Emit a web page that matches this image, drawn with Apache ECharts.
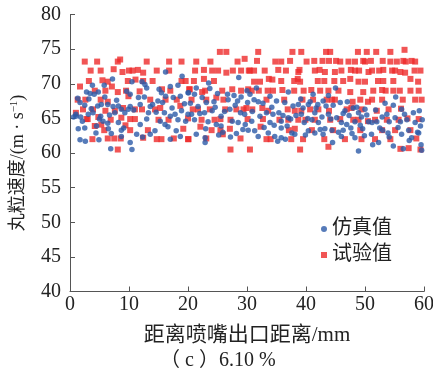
<!DOCTYPE html>
<html><head><meta charset="utf-8">
<script src="https://cdn.jsdelivr.net/npm/echarts@6/dist/echarts.min.js"></script>
<style>html,body{margin:0;padding:0;background:#fff}#c{width:433px;height:375px}</style>
</head><body><div id="c"></div>
<script>
const xTicks = [0,10,20,30,40,50,60];
const yTicks = [40,45,50,55,60,65,70,75,80];
const seriesNames = ['仿真值','试验值'];
const simX = [1.0,7.2,3.8,5.8,2.8,3.4,4.1,4.8,1.7,3.2,2.5,4.7,5.3,6.4,7.3,8.2,8.7,7.6,1.0,1.8,3.1,3.9,5.2,5.6,6.4,8.2,9.3,9.9,1.4,2.5,4.5,6.5,8.7,1.7,2.6,4.9,8.7,6.9,
16.2,19.0,10.5,12.2,12.7,13.0,15.1,15.5,17.0,18.3,20.0,10.2,11.6,12.6,14.0,14.9,16.2,17.5,18.7,11.9,10.2,13.3,16.0,17.0,17.8,18.9,20.0,13.0,15.3,16.1,18.3,11.3,13.6,14.4,17.0,18.7,10.2,10.5,
28.6,23.5,21.4,23.7,20.1,21.1,25.0,26.7,27.8,29.0,23.1,24.4,26.8,28.4,30.1,20.6,22.0,22.8,24.1,25.6,27.1,28.9,29.6,21.1,23.4,24.8,25.6,28.5,29.7,21.4,22.9,25.9,28.2,22.9,27.2,
31.6,30.5,37.0,31.2,31.9,32.7,35.0,37.8,38.7,39.5,40.4,33.3,34.4,35.4,36.1,37.0,39.2,30.8,33.9,34.6,35.8,37.4,39.7,30.2,31.3,33.6,35.8,38.1,40.4,31.9,35.2,35.8,36.5,34.7,
45.0,43.8,41.2,40.7,42.0,42.9,44.6,45.8,46.6,48.0,48.9,50.0,41.5,42.7,43.8,45.2,47.3,49.4,41.0,42.1,46.0,46.9,48.3,50.6,43.2,44.4,46.3,47.6,49.6,41.5,42.9,46.0,48.3,44.5,48.9,
55.2,54.8,56.2,59.2,52.9,53.7,55.1,57.1,58.5,51.2,52.0,54.1,56.0,59.4,53.0,57.4,59.1,51.1,54.1,56.2,57.9,51.3,52.3,54.8,56.5,59.5,59.6,
0.6,1.3,2.1,3.6,4.4,5.0,5.9,6.7,7.0,7.9,9.1,9.6,10.8,11.9,12.3,13.6,14.6,15.7,16.6,17.3,18.0,19.4,19.6,
20.4,21.7,22.4,23.0,24.6,25.2,26.2,27.5,28.0,29.3,30.0,30.9,32.2,32.9,33.9,34.2,36.4,36.8,37.6,38.3,39.1,39.9,
40.3,41.7,42.4,43.4,44.2,45.5,46.3,47.0,47.8,48.6,49.2,49.9,50.3,51.8,52.5,53.4,53.9,55.6,56.7,57.5,58.2,58.9,59.7];
const simY = [65.6,70.7,69.8,69.8,68.8,68.6,68.5,68.8,67.3,67.8,66.9,66.8,67.0,67.0,66.7,66.8,66.3,65.8,65.3,65.2,65.6,65.8,65.3,64.6,64.3,64.4,65.8,66.3,63.5,63.6,63.9,63.5,63.3,61.9,61.7,61.9,62.4,60.6,
71.7,71.1,70.3,70.3,69.9,69.4,69.2,68.7,69.6,69.8,68.7,68.5,68.0,68.1,67.0,67.5,68.2,68.0,68.2,67.0,66.7,65.8,65.8,65.3,65.6,66.1,65.6,64.9,64.6,64.1,64.8,62.7,62.7,63.2,62.0,62.4,61.5,60.5,
70.9,70.1,69.4,69.3,68.7,68.5,68.6,68.5,68.3,68.1,67.3,67.4,67.7,67.5,67.3,65.6,65.7,65.8,66.1,65.3,66.3,65.8,65.6,64.8,64.5,64.1,63.9,64.4,64.1,62.7,62.2,63.0,62.8,61.5,62.3,
69.4,68.5,68.8,67.7,67.4,67.2,67.5,66.8,67.0,66.5,67.0,65.8,65.6,65.8,65.4,65.1,65.6,64.6,64.4,64.0,64.6,64.9,64.4,63.3,63.2,62.9,63.6,62.7,63.2,62.4,61.7,62.2,62.0,62.4,
69.4,68.3,68.5,67.4,67.0,67.5,66.9,67.3,66.1,66.5,65.8,66.3,65.8,65.2,65.6,65.1,65.4,65.2,64.8,64.4,64.4,64.1,64.5,64.5,63.5,63.3,63.3,63.6,63.5,62.9,62.7,62.4,62.2,61.5,60.3,
68.1,66.9,66.3,66.1,65.2,65.6,65.1,64.8,64.4,64.4,64.5,64.5,64.5,63.9,63.3,63.3,62.9,62.7,62.3,62.7,62.2,61.2,61.5,61.0,60.6,61.2,60.4,
65.2,67.9,64.6,66.4,62.9,64.9,68.1,65.5,62.8,67.6,63.6,68.9,66.2,64.1,62.3,66.7,65.9,67.3,63.8,66.5,63.2,67.1,64.6,
67.2,66.7,68.0,63.5,66.6,62.6,66.0,64.6,66.9,63.4,69.0,66.0,65.3,63.7,68.2,66.6,67.3,63.9,62.9,65.4,67.8,62.6,
65.0,66.5,63.4,66.8,64.9,63.0,65.7,67.4,62.8,66.6,64.0,62.5,65.5,66.2,63.6,67.2,62.9,63.7,65.6,61.8,65.8,63.0,64.8];
const expX = [2.5,8.1,8.5,3.5,5.2,7.4,8.9,10.0,3.2,5.5,6.4,9.8,4.2,6.0,8.1,1.3,2.6,5.2,6.4,9.9,2.2,3.9,6.0,7.6,9.0,2.8,4.8,6.9,8.7,4.2,5.3,3.8,6.4,7.5,8.6,8.1,
16.8,18.9,10.6,11.5,12.4,14.7,16.8,11.1,12.4,18.9,15.6,17.0,20.2,13.6,18.1,11.0,12.2,14.4,15.3,18.7,10.2,11.0,16.7,20.0,10.2,13.2,19.2,12.4,14.7,15.5,20.0,
25.4,26.5,23.8,28.4,29.6,21.2,22.7,24.1,25.1,26.5,29.0,30.3,21.0,22.7,24.4,20.3,22.4,25.8,27.5,29.0,30.2,20.6,23.1,24.8,20.8,21.7,23.7,26.3,28.2,29.9,22.3,24.5,25.5,27.2,30.1,22.1,25.5,27.1,23.1,25.9,20.1,27.2,
31.9,37.7,39.2,35.8,40.1,30.5,31.2,35.3,38.7,38.6,33.7,34.3,35.8,31.2,32.2,38.0,39.0,30.8,32.0,33.5,34.4,36.0,38.0,33.3,36.3,39.4,32.6,33.6,36.9,38.1,39.2,32.7,37.0,38.7,39.9,32.3,37.1,38.1,33.3,34.0,37.5,39.5,39.0,30.5,
44.1,48.8,50.3,41.4,42.8,43.9,45.8,47.2,48.3,49.7,41.5,43.2,44.9,46.0,48.3,50.6,42.0,43.1,44.8,47.5,48.9,50.0,42.4,43.8,45.5,47.5,49.7,41.2,43.5,44.9,47.9,49.2,50.5,40.7,42.1,43.9,47.7,49.4,41.5,44.1,45.8,48.9,50.5,41.0,44.6,49.2,43.1,46.6,49.4,43.8,
54.3,56.7,53.0,54.3,56.5,58.5,51.2,53.1,55.1,56.0,56.8,58.4,52.2,53.1,54.8,57.7,59.0,51.4,52.9,54.8,57.7,59.1,51.2,52.9,56.4,58.5,56.1,54.0,52.0,55.7,59.1,51.7,53.7,52.9,55.1,57.7,54.3,56.0,57.4,59.4,51.7,
1.0,1.7,3.0,4.6,5.8,7.1,9.4,9.5,11.8,13.0,14.0,15.0,16.2,17.6,19.6,21.4,22.9,24.0,26.0,27.6,28.9,29.4,
30.9,31.7,33.0,34.8,35.5,36.6,37.3,38.9,39.6,40.9,42.3,43.4,44.4,45.1,46.3,46.9,47.6,48.0,49.0,50.0,
51.0,51.9,52.4,53.5,54.6,55.4,55.9,56.9,57.2,57.9,58.7,59.4,59.6];
const expY = [73.2,73.2,73.5,71.9,71.9,72.1,71.7,71.9,70.4,70.5,70.3,70.4,69.0,69.0,68.8,67.7,67.7,67.7,67.4,68.2,66.3,66.3,66.1,66.1,66.5,64.9,65.2,64.8,65.1,63.9,64.1,62.0,62.1,62.1,62.1,60.5,
73.2,73.2,71.9,72.0,71.6,71.9,71.9,70.6,70.4,70.4,69.2,69.0,69.2,67.7,67.7,66.3,66.3,66.3,66.5,66.8,64.9,64.9,64.8,65.0,63.3,63.3,63.5,62.2,62.0,62.0,62.0,
74.6,74.6,73.2,73.2,73.6,71.9,72.0,71.9,71.9,71.6,71.9,71.9,70.4,70.7,70.4,69.2,68.8,69.0,69.2,69.0,69.2,67.7,67.7,68.0,66.3,66.3,66.3,66.3,66.3,66.5,64.8,64.8,64.9,64.8,64.9,63.8,63.3,63.5,62.1,62.7,62.0,60.5,
74.6,74.6,74.6,73.2,73.2,71.9,71.9,72.0,71.7,70.7,70.7,70.6,70.4,70.3,70.3,70.4,70.3,69.0,69.0,69.0,69.0,69.1,69.0,67.7,67.7,67.7,66.5,66.1,66.3,66.1,66.1,64.9,64.8,64.8,64.8,63.8,63.3,63.5,62.0,62.0,62.0,62.0,60.5,60.5,
74.6,74.6,74.6,73.3,73.3,73.3,73.2,73.2,73.2,73.3,71.9,71.7,71.7,71.9,71.9,71.7,70.4,70.4,70.4,70.7,70.3,70.3,69.0,69.0,69.0,68.8,68.8,67.7,67.7,67.7,67.4,67.7,67.4,66.3,66.3,66.1,66.5,66.3,64.8,64.8,64.9,64.8,64.6,63.3,63.3,63.3,62.0,62.0,62.0,60.9,
74.6,74.9,73.3,73.2,73.3,73.2,71.9,72.0,71.9,71.7,71.6,71.9,70.4,70.4,70.4,70.7,70.3,69.0,69.1,69.0,69.0,69.0,67.7,67.7,67.7,67.7,66.4,66.3,66.1,64.8,64.9,64.8,64.8,63.3,63.3,63.3,62.0,60.6,60.7,60.5,62.0,
65.8,69.6,64.9,73.2,63.3,69.6,64.0,69.0,68.9,73.2,70.4,64.8,67.7,62.1,70.4,73.2,69.0,63.3,67.7,71.9,62.1,66.3,
66.3,73.3,71.9,73.2,64.8,71.9,73.3,72.0,69.0,69.1,72.0,74.6,67.7,73.3,70.4,66.3,72.0,64.8,71.9,73.2,
73.3,74.6,71.9,69.0,71.9,73.2,69.0,73.2,65.0,73.3,62.1,71.9,67.7];

const simData = simX.map((x,i)=>[x, simY[i]]);
const expData = expX.map((x,i)=>[x, expY[i]]);
const serif = '"Liberation Serif","Times New Roman","Noto Sans CJK SC",serif';
const chart = echarts.init(document.getElementById('c'), null, {renderer:'canvas'});
chart.setOption({
  animation:false,
  backgroundColor:'#fff',
  grid:{left:70,right:9,top:14.5,bottom:83.5,containLabel:false,outerBoundsMode:'none'},
  xAxis:{type:'value',min:xTicks[0],max:xTicks[xTicks.length-1],interval:10,
    axisLine:{show:true,lineStyle:{color:'#555',width:1}},
    axisTick:{show:true,inside:true,length:5,lineStyle:{color:'#555'}},
    splitLine:{show:false},
    axisLabel:{color:'#222',fontFamily:serif,fontSize:20,margin:3},
    name:'距离喷嘴出口距离/mm',nameLocation:'middle',nameGap:33,
    nameTextStyle:{color:'#222',fontFamily:serif,fontSize:21}},
  yAxis:{type:'value',min:yTicks[0],max:yTicks[yTicks.length-1],interval:5,
    axisLine:{show:true,lineStyle:{color:'#555',width:1}},
    axisTick:{show:true,inside:true,length:5,lineStyle:{color:'#555'}},
    splitLine:{show:false},
    axisLabel:{color:'#222',fontFamily:serif,fontSize:20,margin:9}},
  legend:{orient:'vertical',left:316,top:214,itemGap:6,itemWidth:6,itemHeight:6,
    textStyle:{color:'#222',fontFamily:serif,fontSize:20},
    data:[{name:seriesNames[0],icon:'circle'},{name:seriesNames[1],icon:'rect'}]},
  graphic:[
    {type:'text',x:18,y:163,rotation:Math.PI/2,
      style:{text:'{t|丸粒速度/(m · s}{s|−1}{t|)}',align:'center',verticalAlign:'middle',
        rich:{t:{fontFamily:serif,fontSize:18,fill:'#222'},s:{fontFamily:serif,fontSize:11,fill:'#222',padding:[0,0,8,0]}}}},
    {type:'text',left:160,top:351,style:{text:'（ c ）6.10 %',fill:'#222',font:'20px '+serif}}],
  series:[
    {name:seriesNames[0],type:'scatter',data:simData,symbol:'circle',symbolSize:5.5,itemStyle:{color:'#2c5aa8'},z:3},
    {name:seriesNames[1],type:'scatter',data:expData,symbol:'rect',symbolSize:6,itemStyle:{color:'#ee2b2b'},z:2}
  ]
});
</script></body></html>
